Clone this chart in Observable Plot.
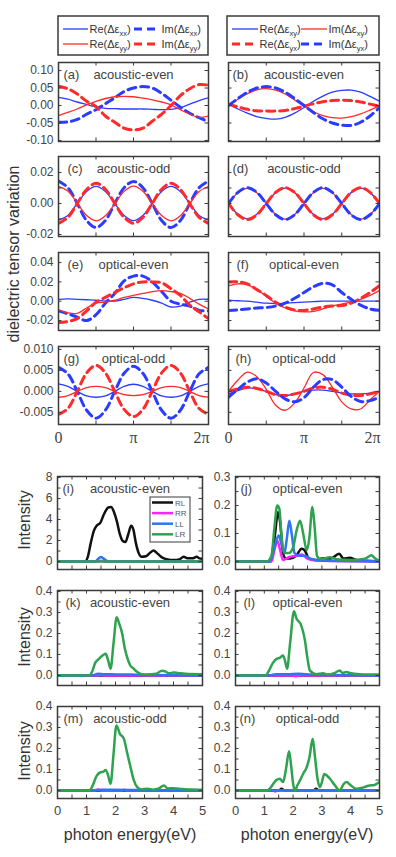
<!DOCTYPE html>
<html><head><meta charset="utf-8">
<script src="https://cdn.jsdelivr.net/npm/d3@7"></script>
<script src="https://cdn.jsdelivr.net/npm/@observablehq/plot@0.6"></script>
<style>
html,body{margin:0;padding:0;background:#fff;}
#chart{position:relative;width:396px;height:857px;overflow:hidden;background:#fff;}
</style></head><body><div id="chart"></div>
<script>
// ---------- DATA: upper panels (phase in units of pi) ----------
const phase = [0, 0.125, 0.25, 0.375, 0.5, 0.625, 0.75, 0.875, 1, 1.125, 1.25, 1.375, 1.5, 1.625, 1.75, 1.875, 2];
const phaseTicks = [0, 1, 2];
const phaseTickLabels = ["0", "π", "2π"];
const phaseTickMarks = [0.5, 1, 1.5];

// (a) acoustic-even
const a_ReXX = [0.023, 0.018, 0.01, 0.003, -0.004, -0.008, -0.009, -0.01, -0.01, -0.01, -0.011, -0.012, -0.011, -0.006, 0.004, 0.014, 0.022];
const a_ImXX = [-0.048, -0.047, -0.04, -0.025, -0.012, 0.005, 0.022, 0.04, 0.05, 0.054, 0.05, 0.035, 0.015, -0.005, -0.022, -0.035, -0.046];
const a_ReYY = [-0.029, -0.02, -0.01, 0.002, 0.012, 0.02, 0.025, 0.026, 0.025, 0.021, 0.016, 0.01, 0.002, -0.012, -0.025, -0.034, -0.03];
const a_ImYY = [0.055, 0.048, 0.033, 0.012, -0.003, -0.03, -0.048, -0.065, -0.07, -0.065, -0.045, -0.025, 0.0, 0.028, 0.048, 0.06, 0.058];
// (b) acoustic-even
const b_ReXY = [0.004, -0.01, -0.022, -0.032, -0.037, -0.039, -0.034, -0.022, -0.006, 0.012, 0.027, 0.038, 0.043, 0.044, 0.038, 0.026, 0.012];
const b_ImXY = [0.0, 0.018, 0.034, 0.045, 0.048, 0.044, 0.033, 0.016, -0.002, -0.018, -0.029, -0.035, -0.036, -0.032, -0.024, -0.013, -0.001];
const b_ReYX = [0.004, -0.004, -0.011, -0.015, -0.016, -0.016, -0.014, -0.009, -0.002, 0.005, 0.011, 0.014, 0.015, 0.014, 0.01, 0.004, -0.002];
const b_ImYX = [0.0, 0.02, 0.038, 0.05, 0.054, 0.05, 0.038, 0.02, 0.0, -0.02, -0.038, -0.05, -0.056, -0.057, -0.048, -0.03, -0.006];
// (c) acoustic-odd
const c_ReXX = [-0.0108, -0.0077, 0.0, 0.0077, 0.011, 0.0078, 0.0, -0.0077, -0.011, -0.0077, 0.0, 0.0078, 0.011, 0.0077, 0.0, -0.0077, -0.0108];
const c_ImXX = [0.0145, 0.0102, 0.0, -0.011, -0.0155, -0.011, 0.0, 0.0102, 0.0142, 0.0102, 0.0, -0.011, -0.0155, -0.011, 0.0, 0.0102, 0.0145];
const c_ReYY = [0.011, 0.008, 0.0002, -0.0078, -0.0112, -0.0079, -0.0002, 0.0078, 0.0112, 0.0079, 0.0001, -0.0078, -0.0112, -0.0079, -0.0001, 0.0078, 0.011];
const c_ImYY = [-0.0128, -0.009, 0.0, 0.009, 0.013, 0.0092, 0.0, -0.009, -0.0128, -0.009, 0.0, 0.0092, 0.013, 0.009, 0.0, -0.009, -0.0128];
// (d) acoustic-odd
const d_ReXY = [0, -0.007, -0.0099, -0.007, 0, 0.007, 0.0099, 0.007, 0, -0.007, -0.0099, -0.007, 0, 0.007, 0.0099, 0.007, 0];
const d_ImXY = [0, 0.0069, 0.0098, 0.0069, 0, -0.0071, -0.0101, -0.0071, 0, 0.0069, 0.0098, 0.0069, 0, -0.0071, -0.0101, -0.0071, 0];
const d_ReYX = [0, -0.0073, -0.0104, -0.0073, 0, 0.0072, 0.0102, 0.0072, 0, -0.0073, -0.0104, -0.0073, 0, 0.0072, 0.0102, 0.0072, 0];
const d_ImYX = [0, 0.0072, 0.0102, 0.0072, 0, -0.0073, -0.0104, -0.0073, 0, 0.0072, 0.0102, 0.0072, 0, -0.0073, -0.0104, -0.0073, 0];
// (e) optical-even
const e_ReXX = [0.002, 0.0025, 0.002, 0.0015, 0.001, 0.0, 0.0, 0.002, 0.004, 0.003, 0.001, -0.002, -0.006, -0.005, -0.001, 0.002, 0.002];
const e_ImXX = [-0.01, -0.013, -0.0165, -0.02, -0.014, -0.002, 0.008, 0.021, 0.026, 0.026, 0.02, 0.01, 0.0, -0.003, -0.005, -0.0095, -0.01];
const e_ReYY = [-0.009, -0.012, -0.0125, -0.007, -0.002, -0.001, 0.001, 0.004, 0.006, 0.008, 0.01, 0.011, 0.01, 0.008, 0.003, -0.003, -0.008];
const e_ImYY = [-0.022, -0.021, -0.018, -0.01, -0.001, 0.004, 0.009, 0.014, 0.018, 0.02, 0.02, 0.019, 0.013, 0.006, -0.004, -0.011, -0.018];
// (f) optical-even
const f_ReXY = [0.001, 0.0005, 0.0, -0.001, -0.002, -0.0025, -0.002, -0.0015, -0.001, -0.0005, 0.0, 0.0, 0.0, 0.0, 0.0, 0.0, 0.0];
const f_ImXY = [0.016, 0.018, 0.017, 0.012, 0.005, -0.002, -0.007, -0.01, -0.011, -0.0105, -0.008, -0.005, -0.003, -0.001, 0.002, 0.006, 0.011];
const f_ReYX = [0.02, 0.02, 0.018, 0.012, 0.006, -0.001, -0.006, -0.009, -0.0095, -0.008, -0.006, -0.005, -0.0045, -0.002, 0.003, 0.009, 0.016];
const f_ImYX = [-0.0095, -0.009, -0.008, -0.007, -0.0065, -0.005, -0.002, 0.003, 0.009, 0.015, 0.0185, 0.017, 0.009, 0.002, -0.004, -0.008, -0.0095];
// (g) optical-odd
const g_ReXX = [0.0018, 0.0012, 0, -0.0011, -0.0014, -0.0011, 0, 0.0012, 0.0017, 0.0012, 0, -0.0011, -0.0014, -0.0011, 0, 0.0012, 0.0018];
const g_ImXX = [0.0057, 0.0042, 0, -0.0045, -0.0064, -0.0045, 0, 0.0043, 0.006, 0.0043, 0, -0.0045, -0.0064, -0.0045, 0, 0.0042, 0.0057];
const g_ReYY = [-0.0014, -0.001, 0, 0.0009, 0.0012, 0.0009, 0, -0.0008, -0.001, -0.0008, 0, 0.0009, 0.0012, 0.0009, 0, -0.001, -0.0014];
const g_ImYY = [-0.0055, -0.0041, 0, 0.0044, 0.0062, 0.0044, 0, -0.0043, -0.006, -0.0043, 0, 0.0044, 0.0062, 0.0044, 0, -0.0041, -0.0055];
// (h) optical-odd
const h_ReXY = [-0.0006, 0.0002, 0.0008, 0.0006, 0.0, -0.0008, -0.001, -0.0006, 0.0, 0.0003, 0.0003, 0.0, -0.0004, -0.0006, -0.0006, -0.0004, 0.0];
const h_ImXY = [0.0, 0.0027, 0.0046, 0.0035, 0.0005, -0.0033, -0.0045, -0.0028, 0.0008, 0.0045, 0.004, 0.001, -0.0025, -0.0042, -0.0042, -0.002, 0.0];
const h_ReYX = [0.0, 0.0006, 0.001, 0.0007, 0.0, -0.0008, -0.001, -0.0006, 0.0, 0.0008, 0.001, 0.0005, -0.0004, -0.0009, -0.001, -0.0006, 0.0];
const h_ImYX = [-0.0014, 0.0005, 0.0022, 0.003, 0.002, 0.0, -0.0018, -0.0025, -0.0015, 0.001, 0.0028, 0.0028, 0.001, -0.0012, -0.0024, -0.0022, -0.0014];

// y tick values / labels (upper)
const yTicksA = [-0.10, -0.05, 0.00, 0.05, 0.10];
const yLabA = ["-0.10", "-0.05", "0.00", "0.05", "0.10"];
const yTicksC = [-0.02, 0.00, 0.02];
const yLabC = ["-0.02", "0.00", "0.02"];
const yMarksC = [-0.02, -0.01, 0.00, 0.01, 0.02];
const yTicksE = [-0.02, 0.00, 0.02, 0.04];
const yLabE = ["-0.02", "0.00", "0.02", "0.04"];
const yTicksG = [-0.005, 0.000, 0.005, 0.010];
const yLabG = ["-0.005", "0.000", "0.005", "0.010"];

// ---------- DATA: lower panels (photon energy eV, intensity) ----------
const energyTicks = [0, 1, 2, 3, 4, 5];
const energyTickLabels = ["0", "1", "2", "3", "4", "5"];
const energyTickMarks = [0.5, 1, 1.5, 2, 2.5, 3, 3.5, 4, 4.5];

const i_RL = [[0,0],[0.95,0],[1.05,0.5],[1.15,1.8],[1.25,2.9],[1.35,3.4],[1.48,3.7],[1.6,4.5],[1.75,5.15],[1.85,5.2],[1.95,4.7],[2.05,3.8],[2.15,2.6],[2.25,1.95],[2.34,1.85],[2.44,2.6],[2.54,3.4],[2.62,3.0],[2.7,1.8],[2.8,0.8],[2.9,0.45],[3.05,0.5],[3.2,0.85],[3.31,1.05],[3.45,0.75],[3.6,0.4],[3.8,0.2],[4.0,0.15],[4.2,0.2],[4.35,0.45],[4.5,0.3],[4.65,0.3],[4.8,0.45],[4.9,0.3],[5.0,0.25]];
const i_RR = [[0,0],[1.4,0],[1.5,0.08],[1.6,0],[5,0]];
const i_LL = [[0,0],[1.3,0],[1.42,0.3],[1.5,0.42],[1.58,0.3],[1.7,0.05],[1.8,0],[5,0]];
const i_LR = [[0,0],[5,0]];

const j_RL = [[0,0],[1.2,0],[1.35,0.08],[1.48,0.176],[1.55,0.14],[1.65,0.03],[1.75,0.01],[1.9,0.01],[2.1,0.02],[2.3,0.045],[2.4,0.04],[2.55,0.01],[2.8,0.005],[3.0,0.01],[3.3,0.01],[3.6,0.027],[3.75,0.01],[3.97,0.013],[4.2,0.005],[5,0]];
const j_RR = [[0,0],[1.25,0],[1.35,0.04],[1.45,0.075],[1.55,0.04],[1.65,0.005],[1.85,0.015],[2.1,0.02],[2.3,0.025],[2.5,0.01],[2.8,0.003],[5,0]];
const j_LL = [[0,0],[1.2,0],[1.35,0.05],[1.5,0.093],[1.6,0.06],[1.7,0.03],[1.78,0.08],[1.87,0.146],[1.95,0.1],[2.05,0.03],[2.2,0.02],[2.4,0.02],[2.6,0.01],[2.9,0.003],[5,0]];
const j_LR = [[0,0],[1.1,0],[1.25,0.02],[1.35,0.12],[1.45,0.2],[1.52,0.19],[1.6,0.09],[1.71,0.03],[1.85,0.03],[2.0,0.05],[2.12,0.11],[2.24,0.146],[2.35,0.1],[2.47,0.04],[2.56,0.08],[2.67,0.195],[2.75,0.12],[2.83,0.02],[2.95,0.008],[3.28,0.015],[3.5,0.008],[4.0,0.005],[4.5,0.01],[4.72,0.022],[4.85,0.01],[5,0.002]];

const k_RL = [[0,0],[5,0]];
const k_RR = [[0,0],[1.4,0],[1.5,0.003],[1.6,0],[5,0]];
const k_LL = [[0,0],[1.2,0],[1.4,0.008],[1.6,0.006],[2.0,0.005],[2.5,0.004],[3.0,0.002],[5,0]];
const k_LR = [[0,0],[1.1,0],[1.2,0.02],[1.3,0.06],[1.4,0.075],[1.55,0.095],[1.66,0.103],[1.75,0.07],[1.83,0.032],[1.93,0.15],[2.04,0.278],[2.12,0.25],[2.23,0.2],[2.32,0.13],[2.4,0.087],[2.5,0.05],[2.63,0.032],[2.75,0.016],[2.9,0.006],[3.1,0.005],[3.4,0.008],[3.6,0.022],[3.7,0.02],[3.85,0.01],[4.0,0.014],[4.15,0.012],[4.4,0.008],[5,0.006]];

const l_RL = [[0,0],[5,0]];
const l_RR = [[0,0],[2.0,0],[2.1,-0.004],[2.2,0],[5,0]];
const l_LL = [[0,0],[1.2,0],[1.4,0.006],[1.8,0.006],[2.2,0.008],[2.6,0.004],[3,0.002],[5,0]];
const l_LR = [[0,0],[1.05,0],[1.15,0.02],[1.3,0.06],[1.42,0.079],[1.55,0.085],[1.65,0.095],[1.72,0.07],[1.79,0.032],[1.9,0.16],[2.03,0.306],[2.12,0.27],[2.26,0.246],[2.41,0.167],[2.5,0.08],[2.58,0.024],[2.8,0.006],[3.04,0.01],[3.2,0.004],[3.45,0.012],[3.62,0.024],[3.72,0.012],[3.85,0.016],[4.0,0.01],[4.3,0.006],[5,0.004]];

const m_RL = [[0,0],[5,0]];
const m_RR = [[0,0],[1.3,0],[1.4,0.005],[1.5,0],[2.2,0],[2.3,0.004],[2.4,0],[5,0]];
const m_LL = [[0,0],[1.2,0],[1.5,0.004],[2.5,0.003],[3,0.001],[5,0]];
const m_LR = [[0,0],[1.1,0],[1.2,0.02],[1.35,0.07],[1.48,0.087],[1.58,0.09],[1.66,0.098],[1.75,0.07],[1.83,0.032],[1.93,0.17],[2.03,0.31],[2.15,0.27],[2.29,0.246],[2.4,0.18],[2.52,0.11],[2.63,0.05],[2.75,0.016],[2.9,0.005],[3.1,0.009],[3.3,0.004],[3.5,0.01],[3.67,0.024],[3.8,0.01],[4.0,0.011],[4.3,0.007],[4.6,0.005],[5,0.003]];

const n_RL = [[0,0],[1.5,0],[1.6,0.008],[1.7,0],[2.7,0],[2.8,0.008],[2.9,0],[5,0]];
const n_RR = [[0,0],[1.3,0],[1.38,-0.005],[1.46,0],[5,0]];
const n_LL = [[0,0],[5,0]];
const n_LR = [[0,0],[1.08,0],[1.2,0.01],[1.3,0.03],[1.42,0.05],[1.54,0.056],[1.65,0.04],[1.75,0.1],[1.86,0.187],[1.93,0.12],[2.0,0.032],[2.06,0.0],[2.15,0.025],[2.24,0.048],[2.35,0.08],[2.47,0.11],[2.57,0.16],[2.68,0.246],[2.76,0.16],[2.84,0.063],[2.93,0.016],[3.0,0.04],[3.08,0.079],[3.18,0.07],[3.28,0.056],[3.45,0.025],[3.62,0.0],[3.75,0.03],[3.85,0.04],[4.0,0.025],[4.2,0.008],[4.45,0.015],[4.66,0.024],[4.8,0.025],[4.9,0.032],[5,0.04]];

const yTicksI = [0, 2, 4, 6, 8];
const yLabI = ["0", "2", "4", "6", "8"];
const yMarksI = [0, 1, 2, 3, 4, 5, 6, 7, 8];
const yTicksJ = [0.0, 0.1, 0.2, 0.3];
const yLabJ = ["0.0", "0.1", "0.2", "0.3"];
const yMarksJ = [0, 0.05, 0.1, 0.15, 0.2, 0.25, 0.3];
const yTicksK = [0.0, 0.1, 0.2, 0.3, 0.4];
const yLabK = ["0.0", "0.1", "0.2", "0.3", "0.4"];
const yMarksK = [0, 0.05, 0.1, 0.15, 0.2, 0.25, 0.3, 0.35, 0.4];
const yMarksM = [0, 0.05, 0.1, 0.15, 0.2, 0.25, 0.3, 0.35];

const upLegendLeft = [["Re(Δε", "xx", ")"], ["Im(Δε", "xx", ")"], ["Re(Δε", "yy", ")"], ["Im(Δε", "yy", ")"]];
const upLegendRight = [["Re(Δε", "xy", ")"], ["Im(Δε", "xy", ")"], ["Re(Δε", "yx", ")"], ["Im(Δε", "yx", ")"]];
const lowLegend = ["RL", "RR", "LL", "LR"];

// ---------- STYLE ----------
const FONT = "'Liberation Sans', Arial, Helvetica, sans-serif";
const SERIF = "'Liberation Serif', 'Times New Roman', serif";
const BLUE = "#2a3cff", RED = "#ff2a2a";
const C_RL = "#111111", C_RR = "#ff22ff", C_LL = "#2f74f0", C_LR = "#2ea34f";
const INK = "#3a3a3a", TXT = "#444";

const chart = document.getElementById("chart");

function inwardTicks(W, H, xVals, yVals, len) {
  const s = {stroke: INK, strokeWidth: 1};
  return [
    Plot.tickY(yVals, {y: d => d, insetRight: W - len, ...s}),
    Plot.tickY(yVals, {y: d => d, insetLeft: W - len, ...s}),
    Plot.tickX(xVals, {x: d => d, insetBottom: H - len, ...s}),
    Plot.tickX(xVals, {x: d => d, insetTop: H - len, ...s})
  ];
}

function panel(o) {
  const ml = 50, mr = 12, mt = 8, mb = 30;
  const marks = [
    ...o.lines,
    Plot.frame({stroke: INK, strokeWidth: 1.5}),
    ...inwardTicks(o.w, o.h, o.xMarks, o.yMarks, 3.5),
    Plot.text([o.tag], {frameAnchor: "top-left", dx: o.tagDx, dy: 12, lineAnchor: "middle", textAnchor: "start", text: d => d, fontSize: 13, fill: TXT}),
    Plot.text([o.title], {frameAnchor: "top", dy: 12, lineAnchor: "middle", text: d => d, fontSize: 13, fill: TXT})
  ];
  if (o.yLabels) marks.push(Plot.text(o.yTicks, {y: d => d, text: (d, i) => o.yLabels[i], frameAnchor: "left", dx: -5, textAnchor: "end", fontSize: 12, fill: TXT}));
  if (o.xLabelMarks) marks.push(...o.xLabelMarks);
  const svg = Plot.plot({
    width: o.w + ml + mr, height: o.h + mt + mb,
    marginLeft: ml, marginRight: mr, marginTop: mt, marginBottom: mb,
    x: {domain: o.xDomain, axis: null},
    y: {domain: o.yDomain, axis: null},
    style: {fontFamily: FONT, background: "transparent", overflow: "visible", maxWidth: "none"},
    marks
  });
  svg.style.position = "absolute";
  svg.style.left = (o.x - ml) + "px";
  svg.style.top = (o.y - mt) + "px";
  chart.appendChild(svg);
}

const upLine = (vals, color, dashed) => Plot.line(phase.map((p, i) => ({p, v: vals[i]})), {
  x: "p", y: "v", stroke: color, strokeWidth: dashed ? 3 : 1.3,
  ...(dashed ? {strokeDasharray: "8,5"} : {}), curve: "catmull-rom", clip: true
});
const lowLine = (pts, color) => Plot.line(pts, {x: d => d[0], y: d => d[1], stroke: color, strokeWidth: 2.5, curve: "monotone-x", clip: true});

const upXLabels = () => [
  Plot.text(phaseTicks.slice(0, 2), {x: d => d, text: (d, i) => phaseTickLabels[i], frameAnchor: "bottom", dy: 13, lineAnchor: "middle", fontFamily: SERIF, fontSize: 16, fill: TXT}),
  Plot.text(phaseTicks.slice(2), {x: d => d, text: (d, i) => phaseTickLabels[i + 2], frameAnchor: "bottom", dy: 13, dx: -7, lineAnchor: "middle", fontFamily: SERIF, fontSize: 16, fill: TXT})
];
const lowXLabels = () => [
  Plot.text(energyTicks, {x: d => d, text: (d, i) => energyTickLabels[i], frameAnchor: "bottom", dy: 12, lineAnchor: "middle", fontSize: 13, fill: TXT})
];

const UL = {x: 58, w: 150}, UR = {x: 228, w: 151};
const LL = {x: 57, w: 145}, LR = {x: 235, w: 144};
const rowsUp = [{y: 62, h: 79}, {y: 156, h: 80}, {y: 252, h: 78}, {y: 346, h: 78}];
const rowsLow = [{y: 476, h: 93}, {y: 590, h: 95}, {y: 706, h: 92}];

const leftSet = (v) => [upLine(v[0], BLUE, false), upLine(v[1], BLUE, true), upLine(v[2], RED, false), upLine(v[3], RED, true)];
const rightSet = (v) => [upLine(v[0], BLUE, false), upLine(v[1], RED, false), upLine(v[2], RED, true), upLine(v[3], BLUE, true)];
const lowSet = (v) => [lowLine(v[0], C_RL), lowLine(v[1], C_RR), lowLine(v[2], C_LL), lowLine(v[3], C_LR)];

const upPanels = [
  {col: UL, row: 0, tag: "(a)", tagDx: 5, title: "acoustic-even", yDomain: [-0.103, 0.123], yTicks: yTicksA, yLabels: yLabA, yMarks: yTicksA, lines: leftSet([a_ReXX, a_ImXX, a_ReYY, a_ImYY])},
  {col: UR, row: 0, tag: "(b)", tagDx: 4, title: "acoustic-even", yDomain: [-0.103, 0.123], yTicks: yTicksA, yMarks: yTicksA, lines: rightSet([b_ReXY, b_ImXY, b_ReYX, b_ImYX])},
  {col: UL, row: 1, tag: "(c)", tagDx: 9, title: "acoustic-odd", yDomain: [-0.0213, 0.0303], yTicks: yTicksC, yLabels: yLabC, yMarks: yMarksC, lines: leftSet([c_ReXX, c_ImXX, c_ReYY, c_ImYY])},
  {col: UR, row: 1, tag: "(d)", tagDx: 4, title: "acoustic-odd", yDomain: [-0.0213, 0.0303], yTicks: yTicksC, yMarks: yMarksC, lines: rightSet([d_ReXY, d_ImXY, d_ReYX, d_ImYX])},
  {col: UL, row: 2, tag: "(e)", tagDx: 9, title: "optical-even", yDomain: [-0.0303, 0.0504], yTicks: yTicksE, yLabels: yLabE, yMarks: yTicksE, lines: leftSet([e_ReXX, e_ImXX, e_ReYY, e_ImYY])},
  {col: UR, row: 2, tag: "(f)", tagDx: 8, title: "optical-even", yDomain: [-0.0303, 0.0504], yTicks: yTicksE, yMarks: yTicksE, lines: rightSet([f_ReXY, f_ImXY, f_ReYX, f_ImYX])},
  {col: UL, row: 3, tag: "(g)", tagDx: 5, title: "optical-odd", yDomain: [-0.0079, 0.0107], yTicks: yTicksG, yLabels: yLabG, yMarks: yTicksG, lines: leftSet([g_ReXX, g_ImXX, g_ReYY, g_ImYY]), xl: true},
  {col: UR, row: 3, tag: "(h)", tagDx: 7, title: "optical-odd", yDomain: [-0.0079, 0.0107], yTicks: yTicksG, yMarks: yTicksG, lines: rightSet([h_ReXY, h_ImXY, h_ReYX, h_ImYX]), xl: true}
];
for (const p of upPanels) {
  panel({x: p.col.x, w: p.col.w, y: rowsUp[p.row].y, h: rowsUp[p.row].h, xDomain: [0, 2], xMarks: phaseTickMarks,
    yDomain: p.yDomain, yTicks: p.yTicks, yLabels: p.yLabels, yMarks: p.yMarks, tag: p.tag, tagDx: p.tagDx, title: p.title,
    lines: p.lines, xLabelMarks: p.xl ? upXLabels() : null});
}

const lowPanels = [
  {col: LL, row: 0, tag: "(i)", tagDx: 5, title: "acoustic-even", yDomain: [-0.76, 8.1], yTicks: yTicksI, yLabels: yLabI, yMarks: yMarksI, lines: lowSet([i_RL, i_RR, i_LL, i_LR])},
  {col: LR, row: 0, tag: "(j)", tagDx: 5, title: "optical-even", yDomain: [-0.029, 0.304], yTicks: yTicksJ, yLabels: yLabJ, yMarks: yMarksJ, lines: lowSet([j_RL, j_RR, j_LL, j_LR])},
  {col: LL, row: 1, tag: "(k)", tagDx: 8, title: "acoustic-even", yDomain: [-0.048, 0.405], yTicks: yTicksK, yLabels: yLabK, yMarks: yMarksK, lines: lowSet([k_RL, k_RR, k_LL, k_LR])},
  {col: LR, row: 1, tag: "(l)", tagDx: 8, title: "optical-even", yDomain: [-0.048, 0.405], yTicks: yTicksK, yLabels: yLabK, yMarks: yMarksK, lines: lowSet([l_RL, l_RR, l_LL, l_LR])},
  {col: LL, row: 2, tag: "(m)", tagDx: 6, title: "acoustic-odd", yDomain: [-0.038, 0.4], yTicks: yTicksK, yLabels: yLabK, yMarks: yMarksM, lines: lowSet([m_RL, m_RR, m_LL, m_LR]), xl: true},
  {col: LR, row: 2, tag: "(n)", tagDx: 4, title: "optical-odd", yDomain: [-0.038, 0.4], yTicks: yTicksK, yLabels: yLabK, yMarks: yMarksM, lines: lowSet([n_RL, n_RR, n_LL, n_LR]), xl: true}
];
for (const p of lowPanels) {
  panel({x: p.col.x, w: p.col.w, y: rowsLow[p.row].y, h: rowsLow[p.row].h, xDomain: [0, 5], xMarks: energyTickMarks,
    yDomain: p.yDomain, yTicks: p.yTicks, yLabels: p.yLabels, yMarks: p.yMarks, tag: p.tag, tagDx: p.tagDx, title: p.title,
    lines: p.lines, xLabelMarks: p.xl ? lowXLabels() : null});
}

// ---------- overlay: legends and axis titles ----------
const ov = d3.create("svg").attr("width", 396).attr("height", 857)
  .style("position", "absolute").style("left", "0px").style("top", "0px")
  .style("font-family", FONT).style("overflow", "visible");

function upLegend(box, entries, labels) {
  ov.append("rect").attr("x", box.x).attr("y", box.y).attr("width", box.w).attr("height", box.h)
    .attr("fill", "white").attr("stroke", INK).attr("stroke-width", 1.5);
  entries.forEach((e, i) => {
    ov.append("line").attr("x1", e.x1).attr("x2", e.x2).attr("y1", e.y).attr("y2", e.y)
      .attr("stroke", e.color).attr("stroke-width", e.dashed ? 3 : 1.3)
      .attr("stroke-dasharray", e.dashed ? "8,5" : null);
    const t = ov.append("text").attr("x", e.x2 + 1.5).attr("y", e.y + 4).attr("font-size", 11).attr("fill", "#333");
    t.append("tspan").text(labels[i][0]);
    t.append("tspan").attr("dy", 2.5).attr("font-size", 7.5).text(labels[i][1]);
    t.append("tspan").attr("dy", -2.5).text(labels[i][2]);
  });
}
upLegend({x: 58, y: 16, w: 150, h: 39}, [
  {x1: 63, x2: 88, y: 29, color: BLUE, dashed: false},
  {x1: 134, x2: 160, y: 29, color: BLUE, dashed: true},
  {x1: 63, x2: 88, y: 44, color: RED, dashed: false},
  {x1: 134, x2: 160, y: 44, color: RED, dashed: true}
], upLegendLeft);
upLegend({x: 227, y: 16, w: 152, h: 39}, [
  {x1: 232, x2: 258, y: 29, color: BLUE, dashed: false},
  {x1: 301, x2: 327, y: 29, color: RED, dashed: false},
  {x1: 232, x2: 258, y: 44, color: RED, dashed: true},
  {x1: 301, x2: 327, y: 44, color: BLUE, dashed: true}
], upLegendRight);

// lower legend inside (i)
ov.append("rect").attr("x", 150).attr("y", 497).attr("width", 40).attr("height", 45)
  .attr("fill", "white").attr("stroke", INK).attr("stroke-width", 1);
[C_RL, C_RR, C_LL, C_LR].forEach((c, i) => {
  const y = 502.5 + i * 10.6;
  ov.append("line").attr("x1", 152).attr("x2", 173).attr("y1", y).attr("y2", y).attr("stroke", c).attr("stroke-width", 2.5);
  ov.append("text").attr("x", 175).attr("y", y + 3).attr("font-size", 8).attr("fill", "#555").text(lowLegend[i]);
});

function vtitle(x, y, txt) {
  ov.append("text").attr("transform", `translate(${x},${y}) rotate(-90)`).attr("text-anchor", "middle")
    .attr("dominant-baseline", "central").attr("font-size", 16).attr("fill", "#333").text(txt);
}
vtitle(13, 254, "dielectric tensor variation");
vtitle(24, 520, "Intensity");
vtitle(24, 637, "Intensity");
vtitle(24, 751, "Intensity");
ov.append("text").attr("x", 130).attr("y", 834).attr("text-anchor", "middle").attr("dominant-baseline", "central")
  .attr("font-size", 16).attr("fill", "#333").text("photon energy(eV)");
ov.append("text").attr("x", 307).attr("y", 834).attr("text-anchor", "middle").attr("dominant-baseline", "central")
  .attr("font-size", 16).attr("fill", "#333").text("photon energy(eV)");

chart.appendChild(ov.node());
</script></body></html>
